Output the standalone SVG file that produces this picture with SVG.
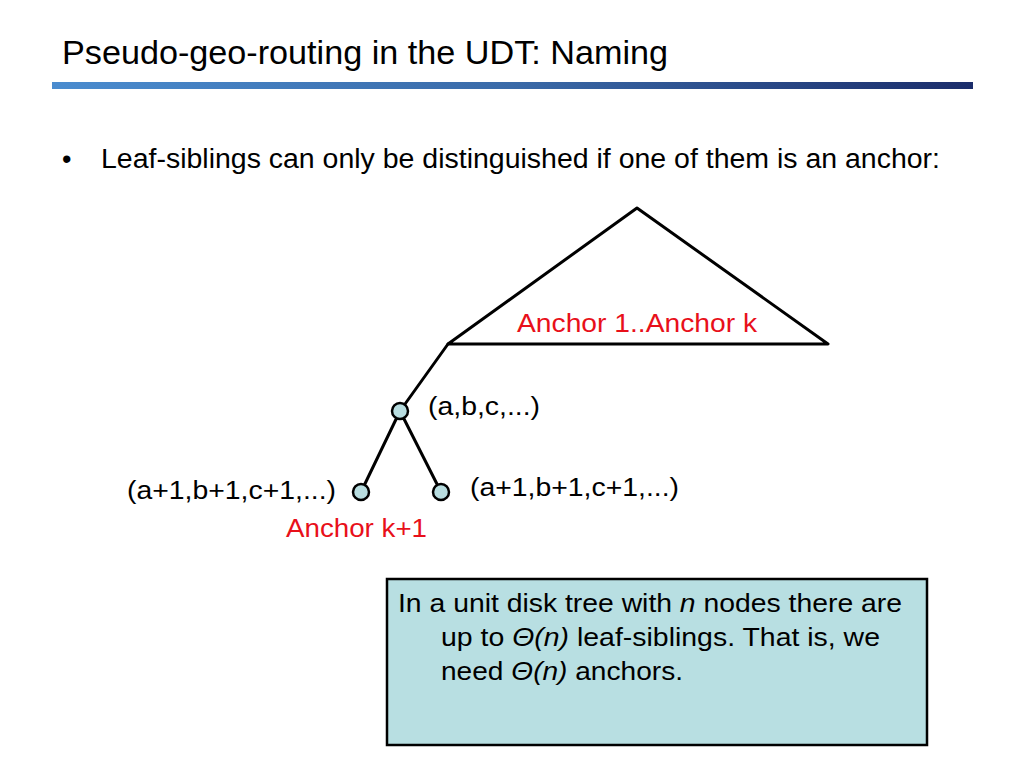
<svg xmlns="http://www.w3.org/2000/svg" width="1024" height="768" viewBox="0 0 1024 768">
<defs>
<linearGradient id="bar" x1="0" y1="0" x2="1" y2="0">
<stop offset="0" stop-color="#4a8ccf"/>
<stop offset="0.5" stop-color="#3a6aa8"/>
<stop offset="1" stop-color="#1b2d6b"/>
</linearGradient>
<style>
text{font-family:"Liberation Sans",Arial,sans-serif;fill:#000}
.red{fill:#e8101a}
.edge{stroke:#000;stroke-width:3;fill:none;stroke-linecap:round;stroke-linejoin:round}
.node{fill:#b8dde0;stroke:#000;stroke-width:2.5}
</style>
</defs>
<rect width="1024" height="768" fill="#fff"/>
<text x="62" y="64" font-size="33" textLength="606" lengthAdjust="spacingAndGlyphs">Pseudo-geo-routing in the UDT: Naming</text>
<rect x="52" y="82" width="921" height="7" fill="url(#bar)"/>
<text x="62" y="168" font-size="27">•</text>
<text x="101" y="168" font-size="27" textLength="839" lengthAdjust="spacingAndGlyphs">Leaf-siblings can only be distinguished if one of them is an anchor:</text>
<g id="connectors">
<polygon class="edge" points="637,208 828,344 448,344"/>
<line class="edge" x1="448" y1="344" x2="400" y2="411"/>
<line class="edge" x1="400" y1="411" x2="361" y2="492"/>
<line class="edge" x1="400" y1="411" x2="441" y2="492"/>
</g>
<g id="anchors">
<text class="red" x="517" y="332" font-size="26" textLength="240" lengthAdjust="spacingAndGlyphs">Anchor 1..Anchor k</text>
</g>
<g id="parent">
<circle class="node" cx="400" cy="411" r="8"/>
<text x="428" y="415" font-size="26" textLength="112" lengthAdjust="spacingAndGlyphs">(a,b,c,...)</text>
</g>
<g id="leftleaf">
<circle class="node" cx="361" cy="492" r="8"/>
<text x="127" y="499" font-size="26" textLength="209" lengthAdjust="spacingAndGlyphs">(a+1,b+1,c+1,...)</text>
<text class="red" x="286" y="537" font-size="26" textLength="141" lengthAdjust="spacingAndGlyphs">Anchor k+1</text>
</g>
<g id="rightleaf">
<circle class="node" cx="441" cy="492" r="8"/>
<text x="470" y="496" font-size="26" textLength="209" lengthAdjust="spacingAndGlyphs">(a+1,b+1,c+1,...)</text>
</g>
<g id="note">
<rect x="387" y="579" width="540" height="166" fill="#b8dfe2" stroke="#000" stroke-width="2.5"/>
<text x="398" y="612" font-size="26" textLength="504" lengthAdjust="spacingAndGlyphs">In a unit disk tree with <tspan font-style="italic">n</tspan> nodes there are</text>
<text x="441" y="646" font-size="26" textLength="439" lengthAdjust="spacingAndGlyphs">up to <tspan font-style="italic">Θ(n)</tspan> leaf-siblings. That is, we</text>
<text x="441" y="680" font-size="26" textLength="242" lengthAdjust="spacingAndGlyphs">need <tspan font-style="italic">Θ(n)</tspan> anchors.</text>
</g>
</svg>
